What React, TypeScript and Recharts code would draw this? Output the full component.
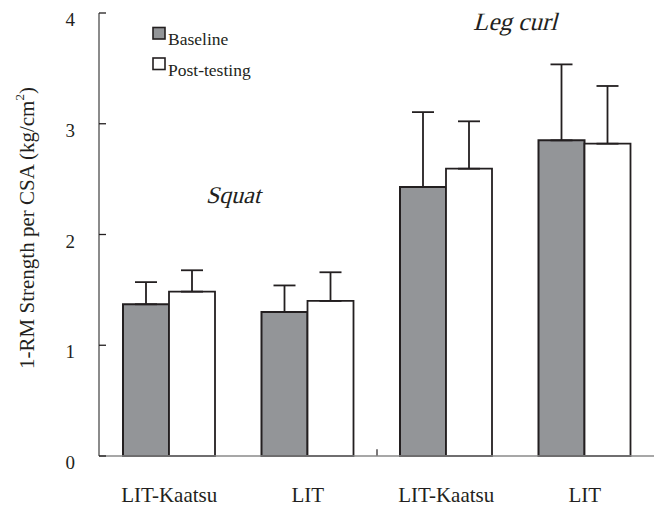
import React from 'react';
import { BarChart, Bar, XAxis, YAxis, ErrorBar, ReferenceLine } from 'recharts';

const categoryIds = ['g1', 'g2', 'g3', 'g4'];
const categoryLabels = ['LIT-Kaatsu', 'LIT', 'LIT-Kaatsu', 'LIT'];
const baselineValues = [1.37, 1.3, 2.43, 2.85];
const baselineErrors = [0.2, 0.24, 0.675, 0.686];
const postValues = [1.484, 1.4, 2.594, 2.82];
const postErrors = [0.193, 0.259, 0.428, 0.521];
const yTicks = [0, 1, 2, 3, 4];
const seriesNames = ['Baseline', 'Post-testing'];

const data = categoryIds.map((id, i) => ({
  id,
  label: categoryLabels[i],
  baseline: baselineValues[i],
  baseErr: [0, baselineErrors[i]],
  post: postValues[i],
  postErr: [0, postErrors[i]],
}));

const FONT = '"Liberation Serif", "Times New Roman", serif';
const INK = '#231f20';
const GRAY = '#939598';

const YTick = (props: any) => {
  const { x, y, payload } = props;
  return (
    <g>
      <line x1={x} x2={x + 7} y1={y} y2={y} stroke={INK} strokeWidth={1.3} />
      <text x={x - 24} y={y + 13} textAnchor="end" fontFamily={FONT} fontSize={19} fill={INK}>
        {payload.value}
      </text>
    </g>
  );
};

const XTick = (props: any) => {
  const { x, y, index } = props;
  return (
    <text x={x} y={y + 46} textAnchor="middle" fontFamily={FONT} fontSize={21} fill={INK}>
      {categoryLabels[index]}
    </text>
  );
};

export default function App() {
  return (
    <div style={{ position: 'absolute', left: 0, top: 0, width: 656, height: 506, background: '#fff' }}>
      <BarChart
        width={656}
        height={506}
        data={data}
        margin={{ top: 13, right: 2, left: 0, bottom: 0 }}
        barGap={0}
        barSize={46}
      >
        <XAxis
          dataKey="id"
          height={50}
          tickLine={false}
          tickSize={0}
          tickMargin={0}
          padding={{ left: 1, right: 0 }}
          axisLine={{ stroke: '#8a8a8a', strokeWidth: 1.6 }}
          tick={<XTick />}
          interval={0}
        />
        <YAxis
          width={99}
          domain={[0, 4]}
          ticks={yTicks}
          tickLine={false}
          tickSize={0}
          tickMargin={0}
          axisLine={{ stroke: '#5a5a5a', strokeWidth: 1.4 }}
          tick={<YTick />}
          interval={0}
        />
        <Bar dataKey="baseline" name={seriesNames[0]} fill={GRAY} stroke={INK} strokeWidth={2} isAnimationActive={false}>
          <ErrorBar dataKey="baseErr" width={11} stroke={INK} strokeWidth={1.8} direction="y" />
        </Bar>
        <Bar dataKey="post" name={seriesNames[1]} fill="#ffffff" stroke={INK} strokeWidth={1.8} isAnimationActive={false}>
          <ErrorBar dataKey="postErr" width={11} stroke={INK} strokeWidth={1.8} direction="y" />
        </Bar>
        <ReferenceLine
          segment={[{ x: 'g2', y: 0 }, { x: 'g2', y: 0.06 }]}
          position="end"
          stroke={INK}
          strokeWidth={1.2}
          ifOverflow="visible"
        />
        <text
          transform="translate(27,228) rotate(-90)"
          textAnchor="middle"
          dominantBaseline="central"
          fontFamily={FONT}
          fontSize={21}
          fill={INK}
        >
          1-RM Strength per CSA (kg/cm<tspan fontSize={13} dy={-8}>2</tspan><tspan dy={8}>)</tspan>
        </text>
        <text
          transform="translate(233,203) skewX(-15)"
          x={0}
          y={0}
          textAnchor="middle"
          fontFamily={FONT}
          fontSize={24}
          fill={INK}
        >
          Squat
        </text>
        <text
          transform="translate(515,30) skewX(-15)"
          x={0}
          y={0}
          textAnchor="middle"
          fontFamily={FONT}
          fontSize={25}
          fill={INK}
        >
          Leg curl
        </text>
        <rect x={153} y={27.5} width={12} height={11.5} fill={GRAY} stroke={INK} strokeWidth={1.6} />
        <text x={168} y={45} fontFamily={FONT} fontSize={17.5} fill={INK}>
          {seriesNames[0]}
        </text>
        <rect x={153} y={58} width={12} height={11.5} fill="#ffffff" stroke={INK} strokeWidth={1.6} />
        <text x={168} y={75.5} fontFamily={FONT} fontSize={17.5} fill={INK}>
          {seriesNames[1]}
        </text>
      </BarChart>
    </div>
  );
}
